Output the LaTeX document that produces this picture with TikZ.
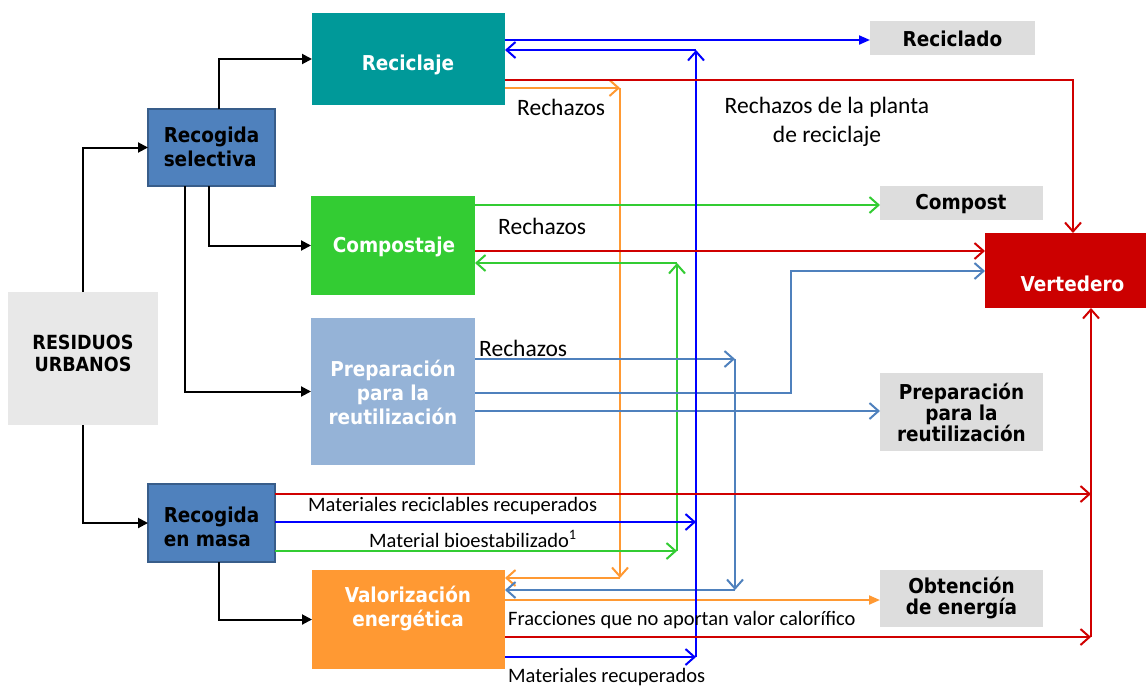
\documentclass[tikz,border=0pt]{standalone}
\usepackage{fontspec}
\setmainfont{Carlito}
\newfontfamily\bxf{DejaVu Sans Condensed}
\usetikzlibrary{arrows.meta}
\definecolor{cteal}{HTML}{009999}
\definecolor{cblue}{HTML}{4F81BD}
\definecolor{cbluedk}{HTML}{385D8A}
\definecolor{cgreen}{HTML}{33CC33}
\definecolor{clblue}{HTML}{95B3D7}
\definecolor{cru}{HTML}{E8E8E8}
\definecolor{cout}{HTML}{DDDDDD}
\definecolor{cred}{HTML}{CC0000}
\definecolor{corange}{HTML}{FF9933}
\definecolor{lblue}{HTML}{0000FF}
\definecolor{lred}{HTML}{D00000}
\definecolor{lsteel}{HTML}{4F81BD}
\begin{document}
\begin{tikzpicture}[x=1pt,y=-1pt,
  box/.style={rectangle, inner sep=0pt, outer sep=0pt},
  rbox/.style={box, fill=cblue, draw=cbluedk, line width=2pt},
  obox/.style={box, fill=cout},
  btxt/.style={inner sep=0pt, align=center, font=\bxf\bfseries\fontsize{20.5}{24}\selectfont},
  wtxt/.style={btxt, text=white},
  gtxt/.style={btxt, text=black, font=\bxf\bfseries\fontsize{20.5}{21}\selectfont},
  lab/.style={inner sep=0pt, anchor=west, font=\fontsize{20.5}{24}\selectfont},
  biglab/.style={inner sep=0pt, anchor=west, font=\fontsize{23.5}{29}\selectfont},
  conn/.style={line width=2pt},
  blk/.style={conn, black, -{Triangle[length=10pt,width=10pt]}},
  oa/.style={conn, -{Straight Barb[length=9pt,width=16pt]}},
  fa/.style={conn, -{Triangle[length=11pt,width=9pt]}}
]
\useasboundingbox (0,0) rectangle (1146,686);

% boxes
\node[box, fill=cteal, minimum width=193pt, minimum height=92pt] (rec) at (408.5,59) {};
\node[rbox, minimum width=127pt, minimum height=77pt] (rs) at (211.5,147.5) {};
\node[box, fill=cgreen, minimum width=164pt, minimum height=99pt] (comp) at (393,245.5) {};
\node[box, fill=clblue, minimum width=164pt, minimum height=147pt] (prep) at (393,391.5) {};
\node[box, fill=cru, minimum width=150pt, minimum height=133pt] (ru) at (83,358.5) {};
\node[rbox, minimum width=127pt, minimum height=78pt] (rm) at (211.5,523) {};
\node[box, fill=corange, minimum width=193pt, minimum height=99pt] (val) at (408.5,619.5) {};
\node[obox, minimum width=165pt, minimum height=34pt] (reciclado) at (952.5,38) {};
\node[obox, minimum width=163pt, minimum height=34pt] (compost) at (961.5,203) {};
\node[box, fill=cred, minimum width=161pt, minimum height=75pt] (vert) at (1065.5,270.5) {};
\node[obox, minimum width=163pt, minimum height=78pt] (prepout) at (961.5,412) {};
\node[obox, minimum width=163pt, minimum height=57pt] (obt) at (961.5,598.5) {};

% box texts
\node[wtxt, anchor=base] (recT) at (408,70) {Reciclaje};
\node[btxt, align=left] (rsT) at (211.5,147) {Recogida\\selectiva};
\node[wtxt, anchor=base] (compT) at (394,252) {Compostaje};
\node[wtxt] (prepT) at (393,392.5) {Preparación\\para la\\reutilización};
\node[btxt, font=\bxf\bfseries\fontsize{19.5}{22}\selectfont] (ruT) at (83,353) {RESIDUOS\\URBANOS};
\node[btxt, align=left] (rmT) at (211.5,527) {Recogida\\en masa};
\node[wtxt] (valT) at (408,609) {Valorización\\energética};
\node[gtxt, anchor=base] (recicladoT) at (952.5,46) {Reciclado};
\node[gtxt, anchor=base] (compostT) at (961,209.5) {Compost};
\node[wtxt, anchor=base] (vertT) at (1072.5,291) {Vertedero};
\node[gtxt] (prepoutT) at (961.5,412) {Preparación\\para la\\reutilización};
\node[gtxt] (obtT) at (961.5,598.5) {Obtención\\de energía};

% black connectors
\draw[blk] (ru.north) |- (rs.west);
\draw[blk] (ru.south) |- (rm.west);
\draw[blk] (rs.north -| 219,0) |- (rec.west);
\draw[blk] (rs.south -| 209,0) |- (comp.west);
\draw[blk] (rs.south -| 185,0) |- (prep.west);
\draw[blk] (rm.south -| 219,0) |- (val.west);

% coordinates
\coordinate (bTop) at (696,50);
\coordinate (bMid) at (696,522);
\coordinate (bBot) at (696,657);
\coordinate (rTop) at (1073,80);
\coordinate (rMid) at (1091,494);
\coordinate (rBot) at (1091,637);
\coordinate (oT) at (620,88);
\coordinate (oB) at (620,578);
\coordinate (gB) at (677,551);
\coordinate (gT) at (677,263);
\coordinate (sT) at (735,359);
\coordinate (sB) at (735,590);
\coordinate (sC) at (791,393);

% orange
\draw[oa, corange] (rec.east |- oT) -- (oT);
\draw[oa, corange] (oT) -- (oB);
\draw[oa, corange] (oB) -- (val.east |- oB);
\draw[fa, corange] (val.east |- 0,600) -- (obt.west |- 0,600);

% green
\draw[oa, cgreen] (comp.east |- 0,205) -- (compost.west |- 0,205);
\draw[oa, cgreen] (gB) -- (gT);
\draw[oa, cgreen] (gT) -- (comp.east |- gT);
\draw[oa, cgreen] (rm.east |- gB) -- (gB);

% steel blue
\draw[oa, lsteel] (sT) -- (sB);
\draw[oa, lsteel] (prep.east |- sT) -- (sT);
\draw[oa, lsteel] (sB) -- (val.east |- sB);
\draw[oa, lsteel] (prep.east |- sC) -- (sC) |- (vert.west |- 0,271);
\draw[oa, lsteel] (prep.east |- 0,411) -- (prepout.west |- 0,411);

% blue
\draw[oa, lblue] (bBot) -- (bTop);
\draw[oa, lblue] (bTop) -- (rec.east |- bTop);
\draw[fa, lblue] (rec.east |- 0,40) -- (reciclado.west |- 0,40);
\draw[oa, lblue] (rm.east |- bMid) -- (bMid);
\draw[oa, lblue] (val.east |- bBot) -- (bBot);

% red
\draw[oa, lred] (rec.east |- rTop) -| (vert.north -| rTop);
\draw[oa, lred] (comp.east |- 0,251) -- (vert.west |- 0,251);
\draw[oa, lred] (rm.east |- rMid) -- (rMid);
\draw[oa, lred] (val.east |- rBot) -- (rBot);
\draw[oa, lred] (rBot) -- (vert.south -| rBot);

% labels
\node[biglab] (l1) at (517,107) {Rechazos};
\node[biglab, anchor=center, align=center] (l2) at (827,122) {Rechazos de la planta\\de reciclaje};
\node[biglab] (l3) at (498,226) {Rechazos};
\node[biglab] (l4) at (479,348) {Rechazos};
\node[lab] (l5) at (308,506) {Materiales reciclables recuperados};
\node[lab] (l6) at (369,539) {Material bioestabilizado\textsuperscript{1}};
\node[lab] (l7) at (508,620) {Fracciones que no aportan valor calorífico};
\node[lab, anchor=base west] (l8) at (508,682) {Materiales recuperados};
\end{tikzpicture}
\end{document}
